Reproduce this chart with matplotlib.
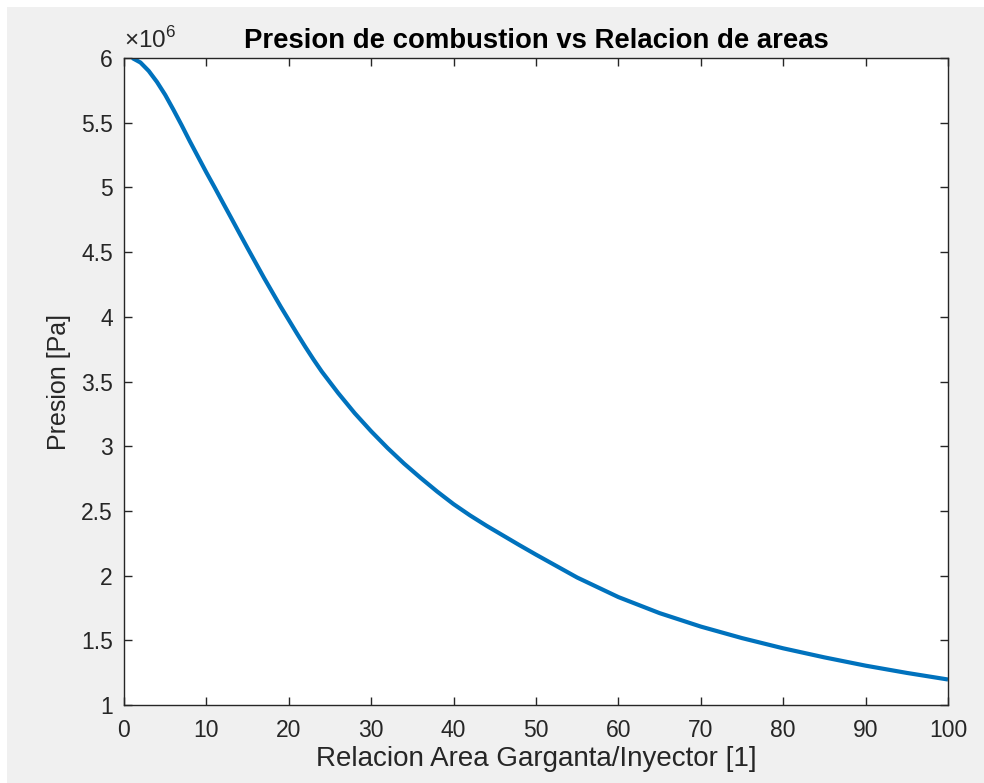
import matplotlib
matplotlib.use("Agg")
import matplotlib.pyplot as plt
from matplotlib.patches import Rectangle

# Area ratio (throat / injector) and resulting chamber pressure [Pa]
area_ratio = [1, 2, 3, 4, 5, 6, 7, 8, 9, 10, 11, 12, 13, 14, 15, 16, 17, 18, 19, 20,
              21, 22, 23, 24, 26, 28, 30, 32, 34, 36, 38, 40, 42, 44, 46, 48, 50,
              55, 60, 65, 70, 75, 80, 85, 90, 95, 100]
pressure_e6 = [6.000, 5.965, 5.900, 5.815, 5.715, 5.600, 5.480, 5.355, 5.235, 5.115,
               5.000, 4.882, 4.765, 4.647, 4.530, 4.415, 4.300, 4.190, 4.080, 3.975,
               3.870, 3.768, 3.670, 3.577, 3.410, 3.255, 3.115, 2.985, 2.865, 2.755,
               2.650, 2.552, 2.465, 2.385, 2.310, 2.235, 2.162,
               1.985, 1.834, 1.710, 1.606, 1.517, 1.438, 1.368, 1.304, 1.248, 1.197]
pressure = [p * 1e6 for p in pressure_e6]

x_ticks = [0, 10, 20, 30, 40, 50, 60, 70, 80, 90, 100]
y_ticks = [1e6, 1.5e6, 2e6, 2.5e6, 3e6, 3.5e6, 4e6, 4.5e6, 5e6, 5.5e6, 6e6]
y_tick_labels = ["1", "1.5", "2", "2.5", "3", "3.5", "4", "4.5", "5", "5.5", "6"]

plt.rcParams["font.family"] = ["Liberation Sans", "DejaVu Sans"]
plt.rcParams["mathtext.fontset"] = "custom"
plt.rcParams["mathtext.rm"] = "Liberation Sans"

txt = "#262626"
W, H = 984, 783
fig = plt.figure(figsize=(W / 100, H / 100), dpi=100, facecolor="#f0f0f0")
# thin white margin along the top and left edges
fig.patches.append(Rectangle((0, 1 - 7 / H), 1, 7 / H, transform=fig.transFigure,
                             facecolor="white", edgecolor="none", zorder=0))
fig.patches.append(Rectangle((0, 0), 7 / W, 1, transform=fig.transFigure,
                             facecolor="white", edgecolor="none", zorder=0))

ax = fig.add_axes([124 / W, 1 - 705 / H, (948 - 124) / W, (705 - 58) / H])
ax.set_facecolor("white")
ax.plot(area_ratio, pressure, color="#0072BD", linewidth=3.0,
        solid_joinstyle="round", solid_capstyle="butt")

ax.set_xlim(0, 100)
ax.set_ylim(1e6, 6e6)
ax.set_xticks(x_ticks)
ax.set_xticklabels([str(v) for v in x_ticks])
ax.set_yticks(y_ticks)
ax.set_yticklabels(y_tick_labels)

for side in ax.spines.values():
    side.set_color(txt)
    side.set_linewidth(1.0)

ax.tick_params(axis="both", direction="in", length=6, width=1.0, color=txt,
               labelcolor=txt, labelsize=16.5, top=True, right=True)
ax.tick_params(axis="x", pad=10)
ax.tick_params(axis="y", pad=8)

ax.text(0.0, 1.008, r"$\times10^{6}$", transform=ax.transAxes, ha="left", va="bottom",
        fontsize=17.5, color=txt)

ax.set_title("Presion de combustion vs Relacion de areas", fontsize=19.8, fontweight="bold",
             color="black", pad=7)
ax.set_xlabel("Relacion Area Garganta/Inyector [1]", fontsize=20, color=txt, labelpad=3)
ax.set_ylabel("Presion [Pa]", fontsize=18, color=txt, labelpad=7)

fig.savefig("out.png", dpi=100, facecolor=fig.get_facecolor())
